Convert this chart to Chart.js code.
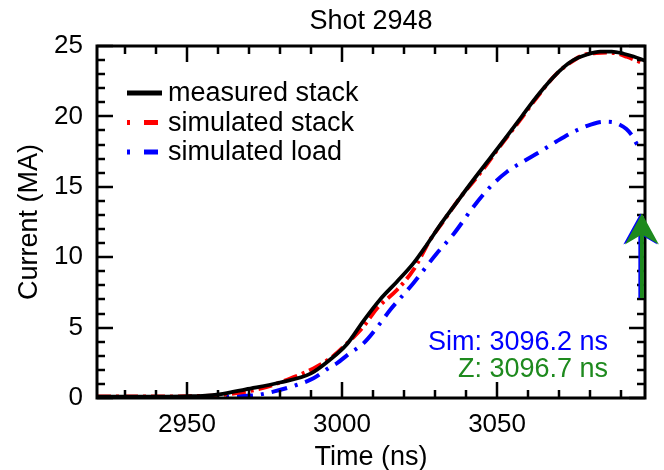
<!DOCTYPE html>
<html><head><meta charset="utf-8">
<script src="https://cdn.jsdelivr.net/npm/chart.js@4.4.0/dist/chart.umd.min.js"></script>
<style>html,body{margin:0;padding:0;background:#fff}canvas{display:block}</style>
</head><body>
<canvas id="c" width="664" height="470"></canvas>
<script>
// ---- data ----
const chartTitle = 'Shot 2948';
const xMin = 2921, xMax = 3097.7;
const yMin = 0, yMax = 25;
const xTickValues = [2950, 3000, 3050];
const xMinorTickValues = [2930, 2940, 2960, 2970, 2980, 2990, 3010, 3020, 3030, 3040, 3060, 3070, 3080, 3090];
const yTickValues = [0, 5, 10, 15, 20, 25];
const yMinorTickValues = [1,2,3,4,6,7,8,9,11,12,13,14,16,17,18,19,21,22,23,24];

const timeMeasured = [2921, 2935, 2950, 2955, 2961, 2969, 2980, 2990, 2996, 3001.5, 3007, 3012.3, 3017.7, 3023, 3027.4, 3032, 3037, 3042.4, 3048, 3053.2, 3058, 3061.7, 3065, 3068.2, 3071.5, 3074.6, 3079, 3083.3, 3087, 3090.8, 3094, 3097.7];
const currentMeasured = [0.1, 0.1, 0.12, 0.15, 0.28, 0.62, 1.1, 1.75, 2.7, 3.8, 5.5, 7.0, 8.26, 9.56, 10.9, 12.4, 13.9, 15.5, 17.1, 18.6, 20.0, 21.1, 22.0, 22.8, 23.5, 24.0, 24.4, 24.6, 24.6, 24.45, 24.25, 23.95];

const timeSimStack = [2921, 2935, 2950, 2960, 2966, 2972.5, 2978, 2983.3, 2990.8, 2997.2, 3001.5, 3006.9, 3011.2, 3017.7, 3023, 3028.4, 3032.5, 3038, 3044.5, 3051, 3057.4, 3063, 3069.3, 3073.5, 3077.9, 3082, 3086.5, 3089, 3091.8, 3094, 3097.7];
const currentSimStack = [0.1, 0.1, 0.12, 0.2, 0.35, 0.6, 0.95, 1.38, 2.1, 2.98, 3.85, 5.07, 6.35, 7.67, 9.09, 11.22, 12.5, 14.2, 15.96, 17.9, 19.74, 21.4, 23.06, 23.8, 24.36, 24.5, 24.53, 24.45, 24.24, 24.05, 23.7];

const timeSimLoad = [2921, 2935, 2950, 2962, 2969.3, 2972.5, 2977.9, 2984.3, 2990.8, 2996.2, 2998.3, 3002, 3006.9, 3012.3, 3015.5, 3023, 3030.6, 3036, 3042.4, 3047.8, 3053.2, 3058.5, 3063.9, 3069, 3074.6, 3080, 3084.3, 3087, 3089.7, 3091.7, 3093.4, 3095.6, 3097];
const currentSimLoad = [0.05, 0.05, 0.05, 0.08, 0.16, 0.21, 0.45, 0.85, 1.4, 2.2, 2.46, 3.1, 3.88, 5.3, 6.25, 8.15, 10.28, 11.65, 13.59, 15.0, 16.07, 16.8, 17.5, 18.2, 18.9, 19.4, 19.62, 19.6, 19.39, 19.1, 18.68, 17.97, 18.15];

const seriesLabels = ['measured stack', 'simulated stack', 'simulated load'];
const arrowTimes = [3096.2, 3096.7];        // Sim, Z
const arrowLabels = ['Sim', 'Z'];
const arrowFrom = 7.1, arrowTo = 13.1;       // MA

// ---- styles ----
const FONT = "'Liberation Sans', Arial, Helvetica, sans-serif";
const arrowColors = ['#0000ff', '#1e8a1e'];

function pts(xs, ys) { return xs.map((x, i) => ({x: x, y: ys[i]})); }

const framePlugin = {
  id: 'frame',
  afterDraw(chart) {
    const ctx = chart.ctx, a = chart.chartArea;
    const xs = chart.scales.x, ys = chart.scales.y;
    ctx.save();
    // title centred over the plot area
    ctx.fillStyle = '#000';
    ctx.font = '27px ' + FONT;
    ctx.textAlign = 'center';
    ctx.textBaseline = 'middle';
    ctx.fillText(chartTitle, (a.left + a.right) / 2, 22);

    ctx.strokeStyle = '#000';
    ctx.lineCap = 'butt';
    const drawX = (vals, len) => vals.forEach(v => {
      const px = Math.round(xs.getPixelForValue(v));
      ctx.beginPath(); ctx.moveTo(px, a.bottom); ctx.lineTo(px, a.bottom - len); ctx.stroke();
      ctx.beginPath(); ctx.moveTo(px, a.top); ctx.lineTo(px, a.top + len); ctx.stroke();
    });
    const drawY = (vals, len) => vals.forEach(v => {
      const py = Math.round(ys.getPixelForValue(v));
      ctx.beginPath(); ctx.moveTo(a.left, py); ctx.lineTo(a.left + len, py); ctx.stroke();
      ctx.beginPath(); ctx.moveTo(a.right, py); ctx.lineTo(a.right - len, py); ctx.stroke();
    });
    ctx.lineWidth = 2.5;
    drawX(xTickValues, 16); drawX(xMinorTickValues, 8);
    drawY(yTickValues, 16); drawY(yMinorTickValues, 8);
    ctx.lineWidth = 3;
    ctx.strokeRect(a.left, a.top, a.right - a.left, a.bottom - a.top);

    // legend
    const ds = chart.data.datasets;
    ctx.font = '27px ' + FONT;
    ctx.textBaseline = 'middle';
    ctx.textAlign = 'left';
    ds.forEach((d, i) => {
      const y = a.top + 47 + i * 29.5;
      ctx.beginPath();
      ctx.strokeStyle = d.borderColor;
      ctx.lineWidth = 5;
      ctx.setLineDash(i === 0 ? [] : [3, 14, 14, 100]);
      ctx.moveTo(a.left + 30, y); ctx.lineTo(a.left + 65, y); ctx.stroke();
      ctx.setLineDash([]);
      ctx.fillStyle = '#000';
      ctx.fillText(d.label, a.left + 71, y + 1);
    });

    // arrows
    arrowTimes.forEach((t, i) => {
      const px = xs.getPixelForValue(t);
      const y0 = ys.getPixelForValue(arrowFrom), y1 = ys.getPixelForValue(arrowTo);
      ctx.strokeStyle = arrowColors[i];
      ctx.fillStyle = arrowColors[i];
      ctx.lineWidth = 4;
      ctx.beginPath(); ctx.moveTo(px, y0); ctx.lineTo(px, y1 + 10); ctx.stroke();
      ctx.beginPath();
      ctx.moveTo(px, y1);
      ctx.lineTo(px + 17, y1 + 31);
      ctx.lineTo(px, y1 + 21);
      ctx.lineTo(px - 17, y1 + 31);
      ctx.closePath();
      ctx.fill();
    });

    // annotations
    ctx.font = '27px ' + FONT;
    ctx.textAlign = 'right';
    arrowTimes.forEach((t, i) => {
      ctx.fillStyle = arrowColors[i];
      ctx.fillText(arrowLabels[i] + ': ' + t.toFixed(1) + ' ns', a.right - 37, a.bottom - 55 + i * 27);
    });
    ctx.restore();
  }
};

new Chart(document.getElementById('c'), {
  type: 'line',
  data: {
    datasets: [
      {label: seriesLabels[0], data: pts(timeMeasured, currentMeasured), borderColor: '#000000', borderWidth: 3.8, pointRadius: 0, cubicInterpolationMode: 'monotone', fill: false},
      {label: seriesLabels[1], data: pts(timeSimStack, currentSimStack), borderColor: '#ff0000', borderWidth: 4, borderDash: [14, 5, 3, 5], pointRadius: 0, cubicInterpolationMode: 'monotone', fill: false},
      {label: seriesLabels[2], data: pts(timeSimLoad, currentSimLoad), borderColor: '#0000ff', borderWidth: 4, borderDash: [16, 8, 3, 8], pointRadius: 0, cubicInterpolationMode: 'monotone', fill: false}
    ]
  },
  options: {
    responsive: false, animation: false, devicePixelRatio: 1,
    layout: {padding: {left: 0, right: 19, top: 46, bottom: 0}},
    plugins: {
      legend: {display: false}, tooltip: {enabled: false}, title: {display: false}
    },
    scales: {
      x: {
        type: 'linear', min: xMin, max: xMax,
        afterFit: s => { s.height = 72; },
        afterBuildTicks: s => { s.ticks = xTickValues.map(v => ({value: v})); },
        grid: {display: false, drawTicks: false}, border: {display: false},
        ticks: {color: '#000', font: {family: FONT, size: 26}, padding: 11, maxRotation: 0, autoSkip: false, callback: v => String(v)},
        title: {display: true, text: 'Time (ns)', color: '#000', font: {family: FONT, size: 27, lineHeight: 1}, padding: {top: 0, bottom: -1}}
      },
      y: {
        type: 'linear', min: yMin, max: yMax,
        afterFit: s => { s.width = 97; },
        afterBuildTicks: s => { s.ticks = yTickValues.map(v => ({value: v})); },
        grid: {display: false, drawTicks: false}, border: {display: false},
        ticks: {color: '#000', font: {family: FONT, size: 26}, padding: 14, autoSkip: false, callback: v => String(v)},
        title: {display: true, text: 'Current (MA)', color: '#000', font: {family: FONT, size: 27, lineHeight: 1}, padding: {top: 16, bottom: 0}}
      }
    }
  },
  plugins: [framePlugin]
});
</script>
</body></html>
